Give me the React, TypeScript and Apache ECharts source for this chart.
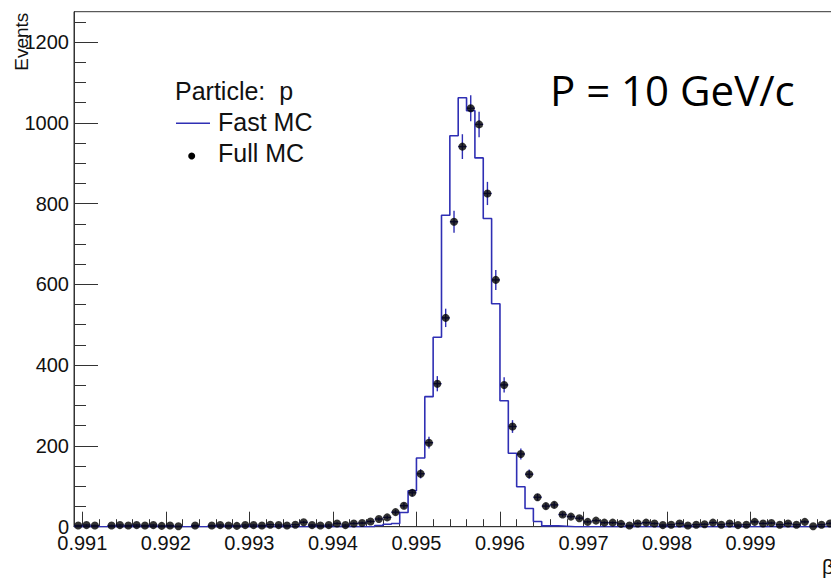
import React, { useEffect, useRef } from "react";
import * as echarts from "echarts";

// ---- data ----
const binStart = 0.9909;
const binWidth = 0.0001;

// Fast MC histogram contents, one per bin from 0.9909 to 1.0000
const fastMC = [
  0, 0, 0, 0, 0, 0, 0, 0, 0, 0,
  0, 0, 0, 0, 0, 0, 0, 0, 0, 0,
  0, 0, 0, 0, 0, 0, 0, 0, 0, 0,
  0, 0, 0, 0, 0, 0,
  3, 6, 8, 35, 89, 170, 322, 469, 771, 968, 1062, 1030, 913, 763, 552, 312, 182, 99, 45, 13, 2, 2, 1,
  0, 0, 0, 0, 0, 0, 0, 0, 0, 0,
  0, 0, 0, 0, 0, 0, 0, 0, 0, 0,
  0, 0, 0, 0, 0, 0, 0, 0, 0, 0,
  0, 0,
];

// Full MC histogram contents (same binning)
const fullMC = [
  3, 4, 3, 0, 3, 4, 3, 4, 3, 4, 2, 3, 1, 0, 3, 0, 3, 4, 3, 2, 4,
  4, 3, 5, 4, 3, 5, 11, 4, 3, 4, 8, 4, 8, 9,
  13, 19, 23, 36, 52, 84, 131, 208, 354, 517, 755, 941, 1036, 996, 825, 611, 351, 248, 180, 130, 73, 51, 54, 30,
  25, 21, 12, 15, 10, 10, 7, 3, 8, 10, 8, 4, 5, 8, 3, 5, 6, 10, 5, 8, 4, 5, 12, 8, 9, 5, 8, 5, 12, 1, 5, 8,
];

const xMajorTicks = [0.991, 0.992, 0.993, 0.994, 0.995, 0.996, 0.997, 0.998, 0.999, 1.0];
// first label sits at the axes corner; drawn separately so it is not pushed aside
const xFirstLabel = 0.991;
const xTickLabels = [0.992, 0.993, 0.994, 0.995, 0.996, 0.997, 0.998, 0.999];
const xMinorPerMajor = 5;
const yMajorTicks = [0, 200, 400, 600, 800, 1000, 1200];
const yMinorPerMajor = 4;
const yTop = 1275;

const BLUE = "#2f2fb4";
const FONT = "'Liberation Sans', Arial, Helvetica, sans-serif";

export default function App() {
  const ref = useRef<HTMLDivElement>(null);

  useEffect(() => {
    const chart = echarts.init(ref.current!, null, { renderer: "svg" });

    const r5 = (v: number) => Number(v.toFixed(6));

    const stepData: number[][] = fastMC.map((v, k) => [r5(binStart + k * binWidth), v]);
    stepData.push([r5(binStart + fastMC.length * binWidth), fastMC[fastMC.length - 1]]);

    const pts: number[][] = [];
    fullMC.forEach((v, k) => {
      if (v > 0) pts.push([r5(binStart + (k + 0.5) * binWidth), v, Math.sqrt(v)]);
    });

    const xMinor: number[] = [];
    for (let i = 0; i < xMajorTicks.length - 1; i++) {
      const a = xMajorTicks[i], b = xMajorTicks[i + 1];
      for (let j = 1; j < xMinorPerMajor; j++) xMinor.push(r5(a + ((b - a) * j) / xMinorPerMajor));
    }
    const yMinor: number[] = [];
    const yStep = yMajorTicks[1] - yMajorTicks[0];
    for (let i = 0; i < yMajorTicks.length; i++) {
      for (let j = 1; j < yMinorPerMajor; j++) {
        const v = yMajorTicks[i] + (yStep * j) / yMinorPerMajor;
        if (v < yTop) yMinor.push(v);
      }
    }

    const xMin = 0.9909, xMax = 1.0001;
    const gridLeft = 74, gridTop = 11.7, gridW = 768.4, gridH = 515;
    const labelMargin = 6;
    const labelStyle = { fontFamily: FONT, fontSize: 20, color: "#111" };

    const option: any = {
      animation: false,
      backgroundColor: "#fff",
      grid: {
        left: gridLeft, top: gridTop, width: gridW, height: gridH,
        show: true, borderColor: "#333", borderWidth: 1, backgroundColor: "transparent",
      },
      xAxis: [
        {
          type: "value", min: xMin, max: xMax,
          axisLine: { show: true, lineStyle: { color: "#333", width: 1 } },
          axisTick: { show: true, inside: true, length: 15, customValues: xMajorTicks, lineStyle: { color: "#333" } },
          axisLabel: {
            show: true, customValues: xTickLabels, margin: labelMargin, hideOverlap: false,
            formatter: (v: number) => v.toFixed(3), ...labelStyle,
          },
          splitLine: { show: false },
        },
        {
          type: "value", min: xMin, max: xMax, position: "bottom",
          axisLine: { show: false },
          axisTick: { show: true, inside: true, length: 7.5, customValues: xMinor, lineStyle: { color: "#333" } },
          axisLabel: { show: false },
          splitLine: { show: false },
        },
      ],
      yAxis: [
        {
          type: "value", min: 0, max: yTop,
          axisLine: { show: true, lineStyle: { color: "#333", width: 1 } },
          axisTick: { show: true, inside: true, length: 24, customValues: yMajorTicks, lineStyle: { color: "#333" } },
          axisLabel: {
            show: true, customValues: yMajorTicks, margin: 5, hideOverlap: false,
            formatter: (v: number) => String(v), ...labelStyle,
          },
          splitLine: { show: false },
        },
        {
          type: "value", min: 0, max: yTop, position: "left",
          axisLine: { show: false },
          axisTick: { show: true, inside: true, length: 12, customValues: yMinor, lineStyle: { color: "#333" } },
          axisLabel: { show: false },
          splitLine: { show: false },
        },
      ],
      series: [
        {
          name: "Fast MC",
          type: "line",
          step: "end",
          data: stepData,
          symbol: "none",
          lineStyle: { color: BLUE, width: 1.6 },
          z: 2,
        },
        {
          name: "Full MC errors",
          type: "custom",
          data: pts,
          encode: { x: 0, y: 1 },
          z: 3,
          renderItem: (params: any, api: any) => {
            const x = api.value(0), v = api.value(1), e = api.value(2);
            const top = api.coord([x, v + e]);
            const bot = api.coord([x, v - e]);
            const l = api.coord([x - binWidth / 2, v]);
            const r = api.coord([x + binWidth / 2, v]);
            const style = { stroke: BLUE, lineWidth: 1.4 };
            return {
              type: "group",
              children: [
                { type: "line", shape: { x1: top[0], y1: top[1], x2: bot[0], y2: bot[1] }, style },
                { type: "line", shape: { x1: l[0], y1: l[1], x2: r[0], y2: r[1] }, style },
              ],
            };
          },
        },
        {
          name: "Full MC",
          type: "scatter",
          data: pts.map((p) => [p[0], p[1]]),
          symbol: "circle",
          symbolSize: 8,
          itemStyle: { color: "#000" },
          z: 4,
        },
      ],
    };

    chart.setOption(option);

    // first x label, positioned through the axis scale
    const fx = chart.convertToPixel({ xAxisIndex: 0 }, xFirstLabel) as number;
    const fy = gridTop + gridH + labelMargin;

    chart.setOption({
      graphic: [
        {
          type: "text", x: fx, y: fy,
          style: { text: xFirstLabel.toFixed(3), fontFamily: FONT, fontSize: 20, fill: "#111", align: "center", verticalAlign: "top" },
        },
        {
          type: "text", x: 21, y: 12.7, rotation: Math.PI / 2,
          style: { text: "Events", fontFamily: FONT, fontSize: 19, fill: "#111", align: "right", verticalAlign: "middle" },
        },
        {
          type: "text", x: 822, y: 566,
          style: { text: "β", fontFamily: FONT, fontSize: 21, fill: "#111", align: "left", verticalAlign: "middle" },
        },
        {
          type: "text", x: 175, y: 91,
          style: { text: "Particle:  p", fontFamily: FONT, fontSize: 25, fill: "#111", align: "left", verticalAlign: "middle" },
        },
        {
          type: "line", shape: { x1: 176, y1: 123.3, x2: 210, y2: 123.3 },
          style: { stroke: BLUE, lineWidth: 1.5 },
        },
        {
          type: "text", x: 218, y: 122,
          style: { text: "Fast MC", fontFamily: FONT, fontSize: 25, fill: "#111", align: "left", verticalAlign: "middle" },
        },
        {
          type: "circle", shape: { cx: 191.7, cy: 156, r: 3.5 },
          style: { fill: "#000" },
        },
        {
          type: "text", x: 218, y: 152.5,
          style: { text: "Full MC", fontFamily: FONT, fontSize: 25, fill: "#111", align: "left", verticalAlign: "middle" },
        },
        {
          type: "text", x: 550, y: 89.5,
          style: { text: "P = 10 GeV/c", fontFamily: "'Open Sans', 'Noto Sans', sans-serif", fontSize: 42, fill: "#000", align: "left", verticalAlign: "middle" },
        },
      ],
    });

    return () => chart.dispose();
  }, []);

  return (
    <div style={{ position: "fixed", left: 0, top: 0, width: 831, height: 582, overflow: "hidden", background: "#fff" }}>
      <div ref={ref} style={{ width: 850, height: 582 }} />
    </div>
  );
}
